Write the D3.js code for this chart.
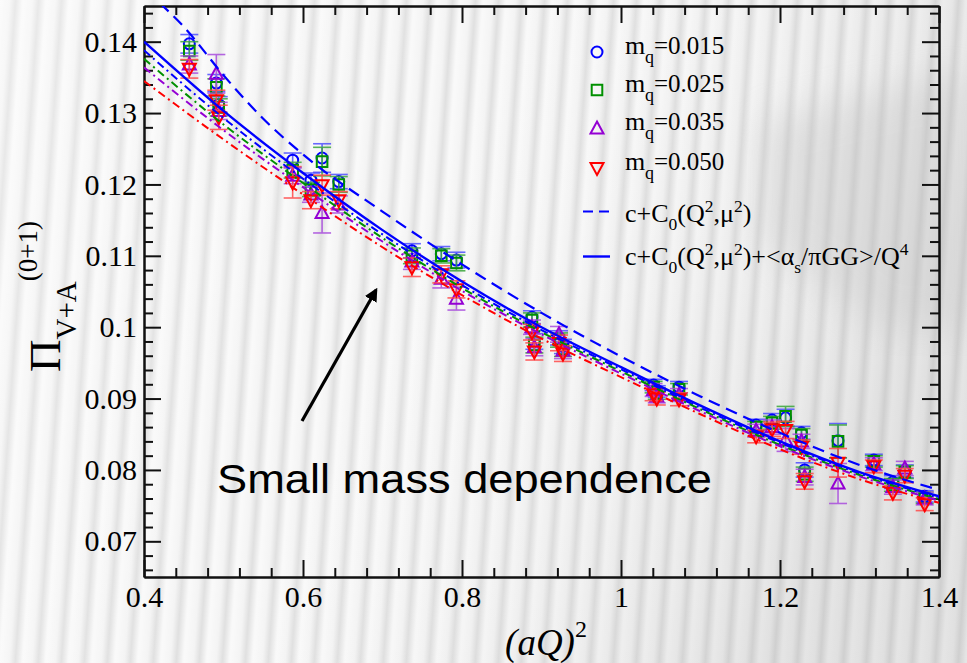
<!DOCTYPE html>
<html>
<head>
<meta charset="utf-8">
<script src="https://cdn.jsdelivr.net/npm/d3@7"></script>
<style>
  html, body { margin: 0; padding: 0; background: #efefef; }
  svg { display: block; }
</style>
</head>
<body>
<svg id="chart" width="967" height="663"></svg>
<script>
// ---- data ---------------------------------------------------------------
// (aQ)^2 of each momentum
const qSq = [0.457, 0.491, 0.494, 0.587, 0.610, 0.624, 0.645, 0.737, 0.774, 0.793,
             0.888, 0.891, 0.922, 0.927, 1.041, 1.045, 1.073, 1.170, 1.190, 1.207,
             1.227, 1.231, 1.273, 1.318, 1.342, 1.357, 1.382];

// Pi_{V+A}^{(0+1)} for each quark mass, with statistical errors
const pi015 = [0.1397, 0.1342, 0.1312, 0.1234, 0.1206, 0.1237, 0.1204, 0.1107, 0.1103, 0.1094,
               0.1014, 0.0980, 0.0985, 0.0973, 0.0919, 0.0910, 0.0916, 0.0863, 0.0870, 0.0873,
               0.0852, 0.0800, 0.0841, 0.0814, 0.0783, 0.0798, 0.0763];
const err015 = [0.0013, 0.0012, 0.0011, 0.0010, 0.0010, 0.0020, 0.0010, 0.0010, 0.0010, 0.0011,
                0.0009, 0.0011, 0.0010, 0.0010, 0.0008, 0.0008, 0.0008, 0.0008, 0.0009, 0.0012,
                0.0009, 0.0010, 0.0024, 0.0008, 0.0009, 0.0009, 0.0008];

const pi025 = [0.1387, 0.1336, 0.1308, 0.1220, 0.1193, 0.1232, 0.1200, 0.1100, 0.1100, 0.1090,
               0.1010, 0.0975, 0.0982, 0.0969, 0.0916, 0.0907, 0.0913, 0.0860, 0.0866, 0.0875,
               0.0849, 0.0794, 0.0840, 0.0812, 0.0779, 0.0797, 0.0761];
const err025 = [0.0013, 0.0012, 0.0012, 0.0011, 0.0010, 0.0020, 0.0011, 0.0011, 0.0010, 0.0011,
                0.0010, 0.0011, 0.0010, 0.0010, 0.0008, 0.0008, 0.0008, 0.0008, 0.0009, 0.0014,
                0.0009, 0.0010, 0.0023, 0.0008, 0.0009, 0.0009, 0.0008];

const pi035 = [0.1368, 0.1355, 0.1303, 0.1212, 0.1186, 0.1160, 0.1172, 0.1092, 0.1068, 0.1040,
               0.1000, 0.0972, 0.0990, 0.0967, 0.0912, 0.0903, 0.0905, 0.0855, 0.0860, 0.0842,
               0.0840, 0.0790, 0.0781, 0.0808, 0.0776, 0.0802, 0.0760];
const err035 = [0.0012, 0.0027, 0.0012, 0.0011, 0.0011, 0.0028, 0.0012, 0.0011, 0.0013, 0.0016,
                0.0010, 0.0012, 0.0011, 0.0011, 0.0009, 0.0009, 0.0009, 0.0009, 0.0010, 0.0016,
                0.0010, 0.0011, 0.0028, 0.0009, 0.0010, 0.0010, 0.0009];

const pi050 = [0.1362, 0.1318, 0.1294, 0.1203, 0.1178, 0.1199, 0.1178, 0.1084, 0.1074, 0.1053,
               0.0993, 0.0966, 0.0978, 0.0963, 0.0906, 0.0900, 0.0899, 0.0847, 0.0857, 0.0856,
               0.0832, 0.0784, 0.0810, 0.0805, 0.0768, 0.0792, 0.0752];
const err050 = [0.0013, 0.0014, 0.0017, 0.0022, 0.0012, 0.0014, 0.0012, 0.0013, 0.0012, 0.0012,
                0.0011, 0.0012, 0.0011, 0.0011, 0.0009, 0.0009, 0.0009, 0.0009, 0.0010, 0.0012,
                0.0010, 0.0011, 0.0020, 0.0009, 0.0010, 0.0010, 0.0009];

// fit curves, sampled along (aQ)^2
const fitX      = [0.40, 0.50, 0.60, 0.70, 0.80, 0.90, 1.00, 1.10, 1.20, 1.30, 1.40];
const fitFull   = [0.1400, 0.1303, 0.1216, 0.1136, 0.1064, 0.1000, 0.0944, 0.0890, 0.0840, 0.0797, 0.0763];
const fit015    = [0.1388, 0.1293, 0.1208, 0.1130, 0.1059, 0.0996, 0.0941, 0.0887, 0.0838, 0.0795, 0.0761];
const fit025    = [0.1376, 0.1284, 0.1202, 0.1125, 0.1055, 0.0993, 0.0938, 0.0885, 0.0835, 0.0793, 0.0759];
const fit035    = [0.1364, 0.1276, 0.1196, 0.1120, 0.1051, 0.0990, 0.0935, 0.0882, 0.0833, 0.0791, 0.0757];
const fit050    = [0.1345, 0.1263, 0.1186, 0.1112, 0.1045, 0.0984, 0.0930, 0.0878, 0.0829, 0.0787, 0.0754];
const pertX     = [0.42, 0.45, 0.50, 0.55, 0.60, 0.70, 0.80, 0.90, 1.00, 1.10, 1.20, 1.30, 1.40];
const fitPert   = [0.1454, 0.1421, 0.1353, 0.1292, 0.1242, 0.1162, 0.1088, 0.1020, 0.0959, 0.0903, 0.0852, 0.0807, 0.0772];

const xTicks = [0.4, 0.6, 0.8, 1.0, 1.2, 1.4];
const xTickLabels = ["0.4", "0.6", "0.8", "1", "1.2", "1.4"];
const yTicks = [0.07, 0.08, 0.09, 0.10, 0.11, 0.12, 0.13, 0.14];
const yTickLabels = ["0.07", "0.08", "0.09", "0.1", "0.11", "0.12", "0.13", "0.14"];
const massLabels = ["0.015", "0.025", "0.035", "0.050"];

// ---- setup --------------------------------------------------------------
const svg = d3.select("#chart");
const W = 967, H = 663;
const L = 144, R = 939, T = 6, B = 577;

const x = d3.scaleLinear().domain([0.4, 1.4]).range([L, R]);
const y = d3.scaleLinear().domain([0.065, 0.145]).range([B, T]);

const defs = svg.append("defs");

// slide background: soft vertical stripes
const sg = defs.append("linearGradient").attr("id", "stripeGrad")
  .attr("x1", 0).attr("x2", 1).attr("y1", 0).attr("y2", 0);
[[0, "#fafafa"], [0.42, "#f4f4f4"], [0.68, "#e0e0e0"], [1, "#fafafa"]]
  .forEach(([o, c]) => sg.append("stop").attr("offset", o).attr("stop-color", c));
const pat = defs.append("pattern").attr("id", "stripes")
  .attr("patternUnits", "userSpaceOnUse").attr("width", 23).attr("height", 60)
  .attr("patternTransform", "skewX(-4)");
pat.append("rect").attr("width", 23).attr("height", 60).attr("fill", "url(#stripeGrad)");

const shade = defs.append("linearGradient").attr("id", "shade")
  .attr("x1", 0).attr("x2", 1).attr("y1", 0).attr("y2", 0.3);
[[0, "rgba(255,255,255,0.3)"], [0.45, "rgba(255,255,255,0)"], [1, "rgba(120,120,120,0.16)"]]
  .forEach(([o, c]) => shade.append("stop").attr("offset", o).attr("stop-color", c));

defs.append("filter").attr("id", "soft").append("feGaussianBlur").attr("stdDeviation", 18);

defs.append("clipPath").attr("id", "plotClip")
  .append("rect").attr("x", L).attr("y", T).attr("width", R - L).attr("height", B - T);

defs.append("marker").attr("id", "arrowHead")
  .attr("viewBox", "0 0 10 10").attr("refX", 8).attr("refY", 5)
  .attr("markerWidth", 4.2).attr("markerHeight", 4.2).attr("orient", "auto")
  .append("path").attr("d", "M0,0 L10,5 L0,10 z").attr("fill", "#000");

svg.append("rect").attr("width", W).attr("height", H).attr("fill", "url(#stripes)");
svg.append("rect").attr("width", W).attr("height", H).attr("fill", "url(#shade)");
svg.append("path")
  .attr("d", "M760,120 L967,70 L967,330 L880,330 L760,240 Z")
  .attr("fill", "#bdbdbd").attr("opacity", 0.3).attr("filter", "url(#soft)");

// ---- axes ---------------------------------------------------------------
const axisFont = "'Liberation Serif', 'Times New Roman', serif";

function styleAxis(g) {
  g.selectAll("path.domain").attr("stroke", "#111").attr("stroke-width", 2);
  g.selectAll(".tick line").attr("stroke", "#111").attr("stroke-width", 2);
  g.selectAll(".tick text").attr("font-family", axisFont).attr("font-size", 30).attr("fill", "#000");
}

const xMinor = d3.range(0.44, 1.4, 0.04).filter(v => Math.abs(v / 0.2 - Math.round(v / 0.2)) > 1e-6);
const yMinor = d3.range(0.066, 0.145, 0.002).filter(v => Math.abs(v / 0.01 - Math.round(v / 0.01)) > 1e-6);

// bottom
svg.append("g").attr("transform", `translate(0,${B})`)
  .call(d3.axisBottom(x).tickValues(xMinor).tickSize(-9).tickSizeOuter(0).tickFormat(""))
  .call(styleAxis);
svg.append("g").attr("transform", `translate(0,${B})`)
  .call(d3.axisBottom(x).tickValues(xTicks).tickSize(-17).tickSizeOuter(0).tickPadding(9)
    .tickFormat((d, i) => xTickLabels[i]))
  .call(styleAxis);
// top
svg.append("g").attr("transform", `translate(0,${T})`)
  .call(d3.axisTop(x).tickValues(xMinor).tickSize(-9).tickSizeOuter(0).tickFormat(""))
  .call(styleAxis);
svg.append("g").attr("transform", `translate(0,${T})`)
  .call(d3.axisTop(x).tickValues(xTicks).tickSize(-17).tickSizeOuter(0).tickFormat(""))
  .call(styleAxis);
// left
svg.append("g").attr("transform", `translate(${L},0)`)
  .call(d3.axisLeft(y).tickValues(yMinor).tickSize(-9).tickSizeOuter(0).tickFormat(""))
  .call(styleAxis);
svg.append("g").attr("transform", `translate(${L},0)`)
  .call(d3.axisLeft(y).tickValues(yTicks).tickSize(-17).tickSizeOuter(0).tickPadding(7)
    .tickFormat((d, i) => yTickLabels[i]))
  .call(styleAxis);
// right
svg.append("g").attr("transform", `translate(${R},0)`)
  .call(d3.axisRight(y).tickValues(yMinor).tickSize(-9).tickSizeOuter(0).tickFormat(""))
  .call(styleAxis);
svg.append("g").attr("transform", `translate(${R},0)`)
  .call(d3.axisRight(y).tickValues(yTicks).tickSize(-17).tickSizeOuter(0).tickFormat(""))
  .call(styleAxis);

// ---- symbols ------------------------------------------------------------
function symbolPath(kind) {
  switch (kind) {
    case "circle": return "M5.5,0 A5.5,5.5 0 1,1 -5.5,0 A5.5,5.5 0 1,1 5.5,0 Z";
    case "square": return "M-5.3,-5.3 H5.3 V5.3 H-5.3 Z";
    case "up":     return "M0,-7 L6.5,5 L-6.5,5 Z";
    case "down":   return "M0,7 L6.5,-5 L-6.5,-5 Z";
  }
}

const series = [
  { label: massLabels[0], color: "#0000ff", bar: "#4f4fff", sym: "circle", v: pi015, e: err015, fit: fit015 },
  { label: massLabels[1], color: "#009000", bar: "#3aa63a", sym: "square", v: pi025, e: err025, fit: fit025 },
  { label: massLabels[2], color: "#9400d3", bar: "#a94ddd", sym: "up",     v: pi035, e: err035, fit: fit035 },
  { label: massLabels[3], color: "#ff0000", bar: "#ff4a4a", sym: "down",   v: pi050, e: err050, fit: fit050 }
];

const plot = svg.append("g").attr("clip-path", "url(#plotClip)");

// data points with error bars
series.forEach(s => {
  const g = plot.append("g");
  const pts = qSq.map((q, i) => ({ q, v: s.v[i], e: s.e[i] }));
  const eb = g.selectAll("g.eb").data(pts).join("g").attr("class", "eb")
    .attr("stroke", s.bar).attr("stroke-width", 1.6).attr("opacity", 0.85);
  eb.append("line")
    .attr("x1", d => x(d.q)).attr("x2", d => x(d.q))
    .attr("y1", d => y(d.v - d.e)).attr("y2", d => y(d.v + d.e));
  eb.append("line")
    .attr("x1", d => x(d.q) - 9).attr("x2", d => x(d.q) + 9)
    .attr("y1", d => y(d.v + d.e)).attr("y2", d => y(d.v + d.e));
  eb.append("line")
    .attr("x1", d => x(d.q) - 9).attr("x2", d => x(d.q) + 9)
    .attr("y1", d => y(d.v - d.e)).attr("y2", d => y(d.v - d.e));
  g.selectAll("path.pt").data(pts).join("path").attr("class", "pt")
    .attr("d", symbolPath(s.sym))
    .attr("transform", d => `translate(${x(d.q)},${y(d.v)})`)
    .attr("fill", "none").attr("stroke", s.color).attr("stroke-width", 2);
});

// fit curves
const line = d3.line().x(d => x(d[0])).y(d => y(d[1])).curve(d3.curveMonotoneX);
series.forEach(s => {
  plot.append("path").datum(fitX.map((q, i) => [q, s.fit[i]]))
    .attr("d", line).attr("fill", "none").attr("stroke", s.color)
    .attr("stroke-width", 2).attr("stroke-dasharray", "8,4,2,4");
});
plot.append("path").datum(pertX.map((q, i) => [q, fitPert[i]]))
  .attr("d", line).attr("fill", "none").attr("stroke", "#0000ff")
  .attr("stroke-width", 2.2).attr("stroke-dasharray", "12,7");
plot.append("path").datum(fitX.map((q, i) => [q, fitFull[i]]))
  .attr("d", line).attr("fill", "none").attr("stroke", "#0000ff")
  .attr("stroke-width", 2.4);

// ---- legend -------------------------------------------------------------
const legFont = axisFont;
const legY = [52, 90, 128.5, 168];
series.forEach((s, i) => {
  svg.append("path").attr("d", symbolPath(s.sym))
    .attr("transform", `translate(597,${legY[i]})`)
    .attr("fill", "none").attr("stroke", s.color).attr("stroke-width", 2);
  const ty = legY[i] + 1.5;
  svg.append("text").attr("x", 625).attr("y", ty)
    .attr("font-family", legFont).attr("font-size", 26).text("m");
  svg.append("text").attr("x", 645).attr("y", ty + 9)
    .attr("font-family", legFont).attr("font-size", 18).text("q");
  svg.append("text").attr("x", 654).attr("y", ty)
    .attr("font-family", legFont).attr("font-size", 25).text("=" + s.label);
});

function richText(xp, yp, parts) {
  const t = svg.append("text").attr("x", xp).attr("y", yp)
    .attr("font-family", legFont).attr("font-size", 26).attr("fill", "#000");
  let shift = 0;
  parts.forEach(([str, kind]) => {
    const target = kind === "sub" ? 8 : kind === "sup" ? -10 : 0;
    t.append("tspan").attr("dy", target - shift)
      .attr("font-size", kind ? 17.5 : 26).text(str);
    shift = target;
  });
  return t;
}

svg.append("line").attr("x1", 583).attr("x2", 610).attr("y1", 211.5).attr("y2", 211.5)
  .attr("stroke", "#0000ff").attr("stroke-width", 2.2).attr("stroke-dasharray", "10,6");
richText(625, 221.5, [["c+C"], ["0", "sub"], ["(Q"], ["2", "sup"], [",μ"], ["2", "sup"], [")"]]);

svg.append("line").attr("x1", 583).attr("x2", 610).attr("y1", 256.5).attr("y2", 256.5)
  .attr("stroke", "#0000ff").attr("stroke-width", 2.4);
richText(625, 265, [["c+C"], ["0", "sub"], ["(Q"], ["2", "sup"], [",μ"], ["2", "sup"],
  [")+<α"], ["s", "sub"], ["/πGG>/Q"], ["4", "sup"]]);

// ---- axis titles --------------------------------------------------------
const yt = svg.append("text").attr("transform", "translate(60,372) rotate(-90)")
  .attr("font-family", axisFont).attr("fill", "#000");
yt.append("tspan").attr("font-size", 45).text("Π");
yt.append("tspan").attr("font-size", 29).attr("dy", 16).text("V+A");
yt.append("tspan").attr("font-size", 27).attr("dy", -39).text("(0+1)");

const xt = svg.append("text").attr("x", 546).attr("y", 655).attr("text-anchor", "middle")
  .attr("font-family", axisFont).attr("font-style", "italic").attr("fill", "#000");
xt.append("tspan").attr("font-size", 37).text("(aQ)");
xt.append("tspan").attr("font-size", 24).attr("dy", -18).attr("font-style", "normal").text("2");

// ---- annotation ---------------------------------------------------------
svg.append("line").attr("x1", 302).attr("y1", 421).attr("x2", 376).attr("y2", 290)
  .attr("stroke", "#000").attr("stroke-width", 3.2).attr("marker-end", "url(#arrowHead)");
svg.append("text").attr("x", 217).attr("y", 493)
  .attr("font-family", "'Liberation Sans', Arial, sans-serif").attr("font-size", 41)
  .attr("textLength", 495).attr("lengthAdjust", "spacingAndGlyphs")
  .attr("fill", "#000").text("Small mass dependence");
</script>
</body>
</html>
